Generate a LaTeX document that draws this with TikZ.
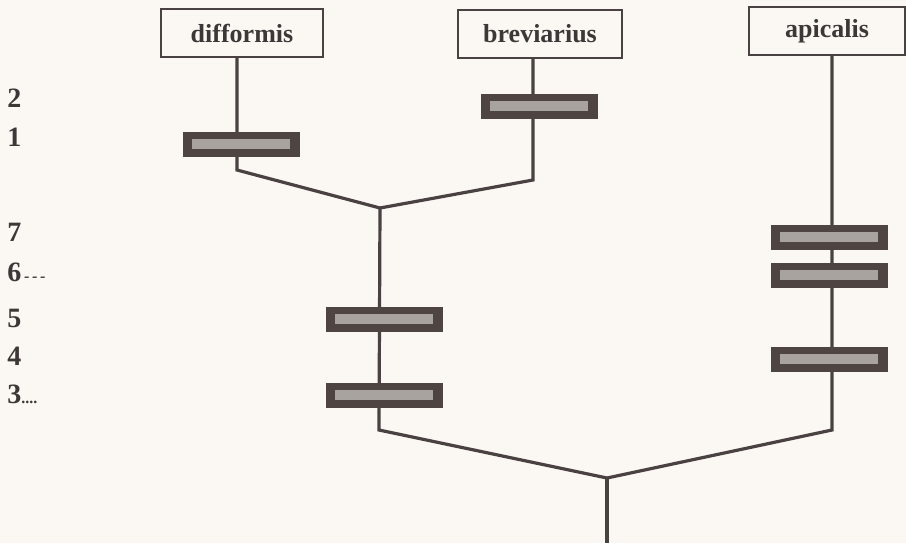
\documentclass[tikz,border=0pt]{standalone}
\usepackage{fontspec}
\setmainfont{Liberation Serif}
\definecolor{paper}{HTML}{FBF8F3}
\definecolor{ink}{HTML}{4A4242}
\definecolor{barfill}{HTML}{4E4441}
\definecolor{barlight}{HTML}{A8A39F}
\definecolor{txt}{HTML}{3E3737}
\begin{document}
\begin{tikzpicture}[x=0.5pt,y=-0.5pt,font=\bfseries\fontsize{13}{15}\selectfont,
    taxon/.style={draw=ink,line width=1pt,fill=paper,text=txt,inner sep=0pt,
        minimum height=24pt},
    branch/.style={draw=ink,line width=1.6pt,line join=miter},
    charbar/.style={fill=barfill,inner sep=0pt,minimum width=58.5pt,minimum height=12.5pt},
    charno/.style={anchor=west,text=txt,inner sep=0pt,font=\bfseries\fontsize{14}{16}\selectfont}]
    % ---- background ----
    \fill[paper] (0,0) rectangle (906,543);
    \useasboundingbox (0,0) rectangle (906,543);
    % ---- taxa ----
    \node[taxon,minimum width=81pt] (dif) at (242,33) {difformis};
    \node[taxon,minimum width=82pt] (bre) at (540,34) {breviarius};
    \node[taxon,minimum width=78pt] (api) at (827,31) {apicalis};
    % ---- tree ----
    \coordinate (c1) at (237,170);
    \coordinate (c2) at (533,180);
    \coordinate (j1) at (380,208);
    \coordinate (c3) at (379,430);
    \coordinate (c4) at (832,430);
    \coordinate (j2) at (607,478);
    \coordinate (root) at (607,543);
    \draw[branch] (dif.south -| c1) -- (c1) -- (j1);
    \draw[branch] (bre.south -| c2) -- (c2) -- (j1);
    \draw[branch] (j1) -- (c3) -- (j2);
    \draw[branch] (api.south -| c4) -- (c4) -- (j2);
    \draw[branch] (j2) -- (root);
    % ---- characters ----
    \node[charbar] (b1) at (241,144) {};
    \node[charbar] (b2) at (539,106) {};
    \node[charbar] (b5) at (384,319) {};
    \node[charbar] (b3) at (384,395) {};
    \node[charbar] (b7) at (829,237) {};
    \node[charbar] (b6) at (829,275) {};
    \node[charbar] (b4) at (829,359) {};
    \foreach \b in {b1,b2,b3,b4,b5,b6,b7} {
        \fill[barlight] ([xshift=5pt,yshift=-2.6pt]\b.west) rectangle ([xshift=-5pt,yshift=2.6pt]\b.east);
    }
    % ---- character numbers ----
    \node[charno] (n2) at (7,98) {2};
    \node[charno] (n1) at (7,137) {1};
    \node[charno] (n7) at (7,232) {7};
    \node[charno] (n6) at (7,272) {6{\fontsize{8}{8}\selectfont\,-\,-\,-}};
    \node[charno] (n5) at (7,318) {5};
    \node[charno] (n4) at (7,356) {4};
    \node[charno] (n3) at (7,394) {3{\fontsize{8}{8}\selectfont....}};
\end{tikzpicture}
\end{document}
